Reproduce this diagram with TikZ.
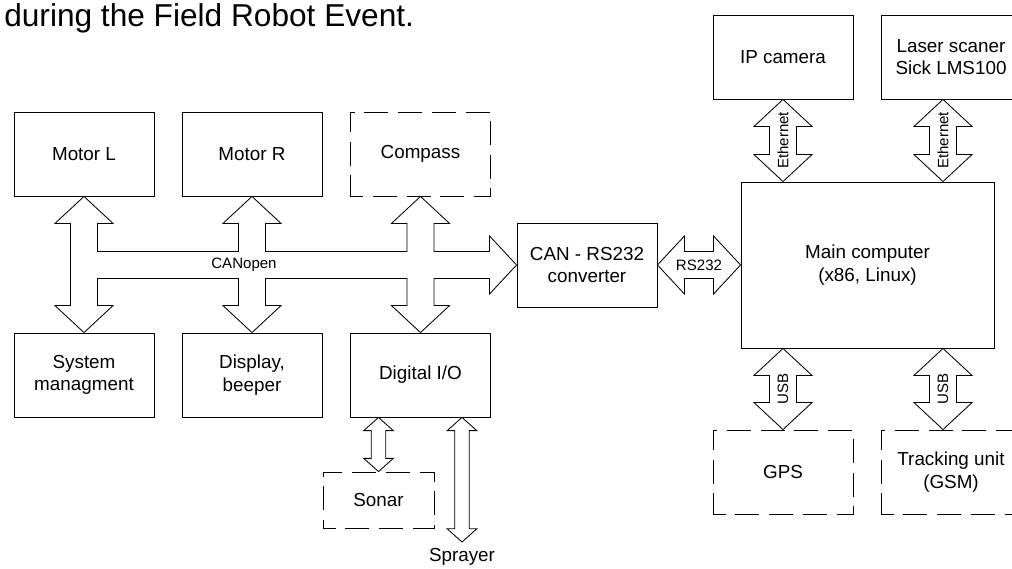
\documentclass[tikz,border=0pt]{standalone}
\usepackage{fontspec}
\setmainfont{Liberation Sans}
\usetikzlibrary{calc}

% hollow double arrow, vertical: #1 top end, #2 bottom end, #3 label
\newcommand{\vlink}[3]{%
  \draw[fatlink] let \p1=(#1), \p2=(#2) in
    (\p1) -- (\x1+\hw,\y1-\hl) -- (\x1+\sw,\y1-\hl) -- (\x1+\sw,\y2+\hl)
    -- (\x1+\hw,\y2+\hl) -- (\x1,\y2) -- (\x1-\hw,\y2+\hl) -- (\x1-\sw,\y2+\hl)
    -- (\x1-\sw,\y1-\hl) -- (\x1-\hw,\y1-\hl) -- cycle
    (\x1,{(\y1+\y2)/2}) node[buslabel,rotate=90] {#3};}
% same, horizontal: #1 left end, #2 right end, #3 label
\newcommand{\hlink}[3]{%
  \draw[fatlink] let \p1=(#1), \p2=(#2) in
    (\p1) -- (\x1+\hl,\y1+\hw) -- (\x1+\hl,\y1+\sw) -- (\x2-\hl,\y1+\sw)
    -- (\x2-\hl,\y1+\hw) -- (\x2,\y1) -- (\x2-\hl,\y1-\hw) -- (\x2-\hl,\y1-\sw)
    -- (\x1+\hl,\y1-\sw) -- (\x1+\hl,\y1-\hw) -- cycle
    ({(\x1+\x2)/2},\y1) node[buslabel] {#3};}

\tikzset{
  blockbox/.style={draw, line width=0.6pt, minimum width=3.5cm, minimum height=2.1cm,
    align=center, inner sep=1pt, font=\fontsize{13.4}{16}\selectfont},
  optbox/.style={blockbox, dash pattern=on 17pt off 7pt, dash phase=8pt},
  fatlink/.style={draw, line width=0.6pt, line join=miter},
  buslabel/.style={inner sep=0pt, font=\fontsize{10.7}{12}\selectfont},
}

\begin{document}
\begin{tikzpicture}[x=0.025cm,y=0.025cm]
  \useasboundingbox (0,0) rectangle (1012,568);

  \node[anchor=base west, inner sep=0pt, font=\fontsize{22.5}{26}\selectfont] (caption)
    at (4,541) {during the Field Robot Event.};

  % CAN bus side
  \node[blockbox] (motorL) at (84,414) {Motor L};
  \node[blockbox] (motorR) at (252,414) {Motor R};
  \node[optbox] (compass) at (420.5,414) {Compass};
  \node[blockbox] (sysman) at (84,193) {System\\managment};
  \node[blockbox] (display) at (252,193) {Display,\\beeper};
  \node[blockbox] (digital) at (420.5,193) {Digital I/O};
  \node[optbox, minimum width=2.775cm, minimum height=1.4cm] (sonar) at (378.5,68) {Sonar};
  \node[blockbox] (can) at (587,303) {CAN - RS232\\converter};

  % PC side
  \node[blockbox, minimum width=6.325cm, minimum height=4.15cm] (main) at (867.5,303)
    {Main computer\\(x86, Linux)};
  \node[blockbox] (ipcam) at (783,511) {IP camera};
  \node[blockbox] (laser) at (951,511) {Laser scaner\\Sick LMS100};
  \node[optbox] (gps) at (783,96) {GPS};
  \node[optbox] (track) at (951,96) {Tracking unit\\(GSM)};

  \coordinate (eth2) at ($(laser.south)+(-0.2cm,0)$);
  \coordinate (sprayend) at (462,26);
  \node[inner sep=0pt, font=\fontsize{13.4}{16}\selectfont] (sprayer) at (462,11) {Sprayer};

  \def\sw{0.3375cm}\def\hw{0.725cm}\def\hl{0.675cm}

  % CANopen bus
  \draw[fatlink] let \p1=(motorL.south), \p2=(motorR.south), \p3=(compass.south),
      \p4=(can.west), \p5=(sysman.north) in
    (\p1) -- (\x1+\hw,\y1-\hl) -- (\x1+\sw,\y1-\hl) -- (\x1+\sw,\y4+\sw)
    -- (\x2-\sw,\y4+\sw) -- (\x2-\sw,\y1-\hl) -- (\x2-\hw,\y1-\hl) -- (\p2)
    -- (\x2+\hw,\y1-\hl) -- (\x2+\sw,\y1-\hl) -- (\x2+\sw,\y4+\sw)
    -- (\x3-\sw,\y4+\sw) -- (\x3-\sw,\y1-\hl) -- (\x3-\hw,\y1-\hl) -- (\p3)
    -- (\x3+\hw,\y1-\hl) -- (\x3+\sw,\y1-\hl) -- (\x3+\sw,\y4+\sw)
    -- (\x4-\hl,\y4+\sw) -- (\x4-\hl,\y4+\hw) -- (\p4) -- (\x4-\hl,\y4-\hw) -- (\x4-\hl,\y4-\sw)
    -- (\x3+\sw,\y4-\sw) -- (\x3+\sw,\y5+\hl) -- (\x3+\hw,\y5+\hl) -- (\x3,\y5)
    -- (\x3-\hw,\y5+\hl) -- (\x3-\sw,\y5+\hl) -- (\x3-\sw,\y4-\sw)
    -- (\x2+\sw,\y4-\sw) -- (\x2+\sw,\y5+\hl) -- (\x2+\hw,\y5+\hl) -- (\x2,\y5)
    -- (\x2-\hw,\y5+\hl) -- (\x2-\sw,\y5+\hl) -- (\x2-\sw,\y4-\sw)
    -- (\x1+\sw,\y4-\sw) -- (\x1+\sw,\y5+\hl) -- (\x1+\hw,\y5+\hl) -- (\x1,\y5)
    -- (\x1-\hw,\y5+\hl) -- (\x1-\sw,\y5+\hl) -- (\x1-\sw,\y1-\hl) -- (\x1-\hw,\y1-\hl) -- cycle;
  \node[buslabel, xshift=-0.2cm] (canopen) at (motorR.south |- can.west) {CANopen};

  \hlink{can.east}{main.west}{RS232}
  \vlink{ipcam.south}{ipcam.south |- main.north}{Ethernet}
  \vlink{eth2}{eth2 |- main.north}{Ethernet}
  \vlink{gps.north |- main.south}{gps.north}{USB}
  \vlink{eth2 |- main.south}{eth2 |- track.north}{USB}

  % thin links below the I/O board
  \def\sw{0.18cm}\def\hw{0.37cm}\def\hl{0.33cm}
  \vlink{digital.south -| sonar.north}{sonar.north}{}
  \vlink{digital.south -| sprayend}{sprayend}{}
\end{tikzpicture}
\end{document}
